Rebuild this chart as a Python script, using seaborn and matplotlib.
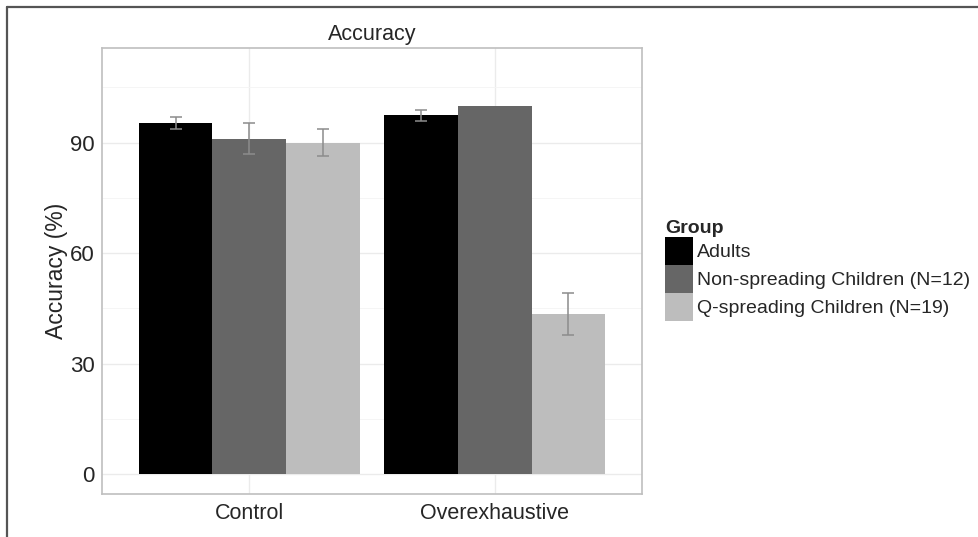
import pandas as pd
import numpy as np
import matplotlib
matplotlib.use("Agg")
import matplotlib.pyplot as plt
from matplotlib.patches import Patch
from matplotlib.lines import Line2D
from matplotlib.ticker import MultipleLocator
import seaborn as sns

conditions = ["Control", "Overexhaustive"]
groups = ["Adults", "Non-spreading Children (N=12)", "Q-spreading Children (N=19)"]
adults_acc = [95.3, 97.4]
nonspreading_acc = [91.1, 100.0]
qspreading_acc = [90.0, 43.5]
adults_se = [1.7, 1.4]
nonspreading_se = [4.3, 0.0]
qspreading_se = [3.7, 5.8]
yticks = [0, 30, 60, 90]

colors = ["#000000", "#666666", "#bdbdbd"]


def build_table():
    rows = []
    accs = [adults_acc, nonspreading_acc, qspreading_acc]
    ses = [adults_se, nonspreading_se, qspreading_se]
    for g, acc, se in zip(groups, accs, ses):
        for c, a, s in zip(conditions, acc, se):
            rows.append({"Condition": c, "Group": g, "Accuracy": a, "SE": s})
    return pd.DataFrame(rows)


def paint_bars(df):
    sns.set_style("white")
    plt.rcParams["font.family"] = ["Liberation Sans", "DejaVu Sans"]

    fig = plt.figure(figsize=(9.79, 5.37), dpi=100)
    ax = fig.add_axes([102 / 979, 1 - 494 / 537, 540 / 979, 446 / 537])

    sns.barplot(data=df, x="Condition", y="Accuracy", hue="Group",
                order=conditions, hue_order=groups, palette=colors,
                width=0.9, errorbar=None, saturation=1, linewidth=0,
                legend=False, ax=ax, zorder=2)

    # error bars at the bar centres
    for g, cont in zip(groups, ax.containers):
        sub = df[df["Group"] == g].set_index("Condition").loc[conditions]
        for bar, (_, r) in zip(cont, sub.iterrows()):
            if r["SE"] <= 0:
                continue
            xc = bar.get_x() + bar.get_width() / 2
            ax.errorbar(xc, r["Accuracy"], yerr=r["SE"], color="#8c8c8c",
                        elinewidth=1.1, capsize=4.5, capthick=1.1, zorder=3)

    ax.set_xlim(-0.6, 1.6)
    ax.set_ylim(-5.35, 115.7)
    ax.set_yticks(yticks)
    ax.yaxis.set_minor_locator(MultipleLocator(15))
    ax.grid(True, which="major", color="#ebebeb", linewidth=1.0, zorder=0)
    ax.grid(True, which="minor", axis="y", color="#f4f4f4", linewidth=0.6, zorder=0)
    ax.set_axisbelow(True)
    for s in ax.spines.values():
        s.set_color("#bfbfbf")
        s.set_linewidth(1.2)
    ax.tick_params(axis="both", which="major", length=3.5, color="#8c8c8c", width=1)
    ax.tick_params(axis="both", which="minor", length=0)
    ax.tick_params(axis="y", labelsize=16, pad=2)
    ax.tick_params(axis="x", labelsize=15.5, pad=3)
    ax.set_xlabel("")
    ax.set_ylabel("Accuracy (%)", fontsize=16.5, labelpad=1)
    ax.set_title("Accuracy", fontsize=15.5, pad=6)

    handles = [Patch(facecolor=c, edgecolor="none") for c in colors]
    fig.legend(handles, groups, loc="upper left",
               bbox_to_anchor=(665 / 979, 1 - 220 / 537),
               frameon=False, fontsize=14, title="Group",
               title_fontproperties={"weight": "bold", "size": 14},
               handlelength=1.44, handleheight=1.84, handletextpad=0.2,
               labelspacing=0, borderpad=0, borderaxespad=0,
               alignment="left")

    # outer frame of the original figure
    x0, y0 = 7.5 / 979, 1 - 6.5 / 537
    fig.add_artist(Line2D([x0, x0], [0, y0], color="#555555", linewidth=1.6))
    fig.add_artist(Line2D([x0, 1], [y0, y0], color="#555555", linewidth=1.6))

    fig.savefig("out.png", dpi=100)


if __name__ == '__main__':
    paint_bars(build_table())
